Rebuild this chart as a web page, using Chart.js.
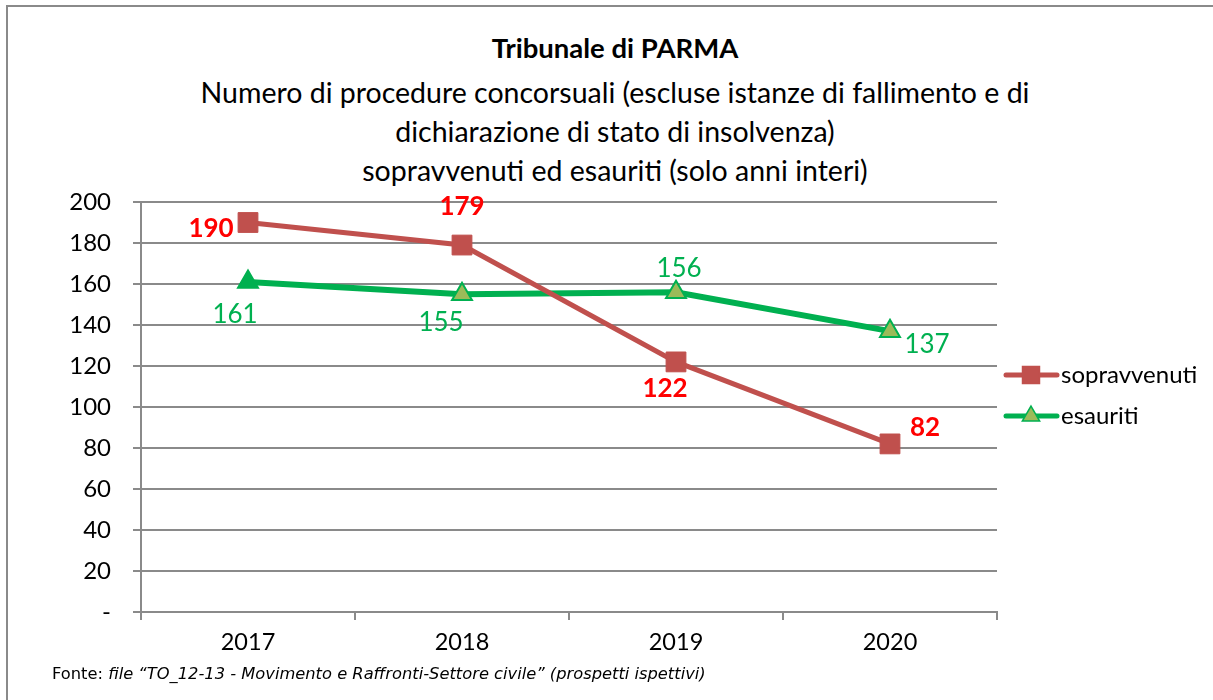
<!DOCTYPE html>
<html lang="it">
<head>
<meta charset="UTF-8">
<title>Tribunale di PARMA</title>
<script src="https://cdn.jsdelivr.net/npm/chart.js"></script>
<style>
  html, body { margin: 0; padding: 0; background: #fff; overflow: hidden; }
  #wrap { position: relative; width: 1213px; height: 700px; }
  #frame { position: absolute; left: 6px; top: 5px; width: 1400px; height: 900px; border: 2px solid #8a8a8a; box-sizing: border-box; }
  #titolo { position: absolute; left: 0; width: 1230px; top: 30px; text-align: center; font-family: Lato, sans-serif; color: #000; }
  #titolo .t1 { font-weight: bold; font-size: 27.5px; line-height: 36px; }
  #titolo .t2 { font-size: 28.5px; line-height: 39px; margin-top: 7px; }
  #fonte { position: absolute; left: 52px; top: 664px; font-family: "DejaVu Sans", sans-serif; font-size: 16.3px; color: #000; }
  canvas { position: absolute; left: 0; top: 0; }
</style>
</head>
<body>
<div id="wrap">
  <div id="frame"></div>
  <div id="titolo">
    <div class="t1">Tribunale di PARMA</div>
    <div class="t2">Numero di procedure concorsuali (escluse istanze di fallimento e di<br>dichiarazione di stato di insolvenza)<br>sopravvenuti ed esauriti (solo anni interi)</div>
  </div>
  <canvas id="grafico" width="1213" height="700"></canvas>
  <div id="fonte">Fonte: <i>file “TO_12-13 - Movimento e Raffronti-Settore civile” (prospetti ispettivi)</i></div>
</div>

<script>
// dati
const anni = ['2017', '2018', '2019', '2020'];
const sopravvenuti = [190, 179, 122, 82];
const esauriti = [161, 155, 156, 137];
const tickY = [0, 20, 40, 60, 80, 100, 120, 140, 160, 180, 200];

// stile etichette (spostamento in px rispetto al punto)
const offSopr = [[-37, 6], [0, -38], [-11, 27], [35, -16]];
const offEsau = [[-13, 33], [-21, 28], [3, -24], [37, 13]];

const ROSSO = '#C0504D';
const VERDE = '#00B050';
const OLIVA = '#9BBB59';
const GRIGIO = '#8a8a8a';
const FONT = 'Lato, sans-serif';

// etichette dei valori
const etichette = {
  id: 'etichette',
  afterDatasetsDraw(chart) {
    const ctx = chart.ctx;
    ctx.save();
    ctx.textAlign = 'center';
    ctx.textBaseline = 'middle';
    const m0 = chart.getDatasetMeta(0);
    ctx.font = 'bold 26px ' + FONT;
    ctx.fillStyle = '#FF0000';
    m0.data.forEach((p, i) => {
      ctx.fillText(sopravvenuti[i], p.x + offSopr[i][0], p.y + offSopr[i][1]);
    });
    const m1 = chart.getDatasetMeta(1);
    ctx.font = '26px ' + FONT;
    ctx.fillStyle = VERDE;
    m1.data.forEach((p, i) => {
      ctx.fillText(esauriti[i], p.x + offEsau[i][0], p.y + offEsau[i][1]);
    });
    ctx.restore();
  }
};

// legenda a destra (linea + marcatore)
const legenda = {
  id: 'legenda',
  afterDraw(chart) {
    const ctx = chart.ctx;
    const voci = [
      { testo: 'sopravvenuti', colore: ROSSO, y: 375, tipo: 'rect', fill: ROSSO },
      { testo: 'esauriti', colore: VERDE, y: 416, tipo: 'triangle', fill: OLIVA }
    ];
    ctx.save();
    voci.forEach(v => {
      ctx.strokeStyle = v.colore;
      ctx.lineWidth = 5;
      ctx.lineCap = 'round';
      ctx.beginPath();
      ctx.moveTo(1006, v.y);
      ctx.lineTo(1057, v.y);
      ctx.stroke();
      ctx.fillStyle = v.fill;
      ctx.strokeStyle = v.colore;
      ctx.lineWidth = 1.5;
      Chart.helpers.drawPoint(ctx, { pointStyle: v.tipo, radius: v.tipo === 'rect' ? 12 : 10, borderWidth: 1.5 }, 1031, v.y);
      ctx.fillStyle = '#000';
      ctx.font = '24px ' + FONT;
      ctx.textBaseline = 'middle';
      ctx.fillText(v.testo, 1061, v.y);
    });
    ctx.restore();
  }
};

new Chart(document.getElementById('grafico'), {
  type: 'line',
  data: {
    labels: anni,
    datasets: [
      {
        label: 'sopravvenuti',
        data: sopravvenuti,
        borderColor: ROSSO,
        borderWidth: 5,
        backgroundColor: ROSSO,
        pointStyle: 'rect',
        pointRadius: 14,
        pointBackgroundColor: ROSSO,
        pointBorderColor: ROSSO,
        pointBorderWidth: 1,
        tension: 0
      },
      {
        label: 'esauriti',
        data: esauriti,
        borderColor: VERDE,
        borderWidth: 6,
        backgroundColor: VERDE,
        pointStyle: 'triangle',
        pointRadius: 11.5,
        pointBackgroundColor: [VERDE, OLIVA, OLIVA, OLIVA],
        pointBorderColor: VERDE,
        pointBorderWidth: 2,
        tension: 0
      }
    ]
  },
  options: {
    responsive: false,
    animation: false,
    layout: { padding: { top: 202, right: 216, bottom: 0, left: 0 } },
    plugins: {
      legend: { display: false },
      tooltip: { enabled: false },
      title: { display: false }
    },
    scales: {
      x: {
        offset: true,
        afterFit(scale) { scale.height = 88; },
        grid: { drawOnChartArea: false, drawTicks: true, tickLength: 8, color: GRIGIO, lineWidth: 2, offset: true },
        border: { display: true, color: GRIGIO, width: 2 },
        ticks: { color: '#000', font: { family: FONT, size: 23.5 }, padding: 8 }
      },
      y: {
        min: 0,
        max: 200,
        afterFit(scale) { scale.width = 141; },
        afterBuildTicks(scale) { scale.ticks = tickY.map(v => ({ value: v })); },
        grid: { color: GRIGIO, lineWidth: 2, tickLength: 8 },
        border: { display: true, color: GRIGIO, width: 2 },
        ticks: {
          color: '#000',
          font: { family: FONT, size: 24 },
          padding: 22,
          callback: v => (v === 0 ? '-' : v)
        }
      }
    }
  },
  plugins: [etichette, legenda]
});
</script>
</body>
</html>
